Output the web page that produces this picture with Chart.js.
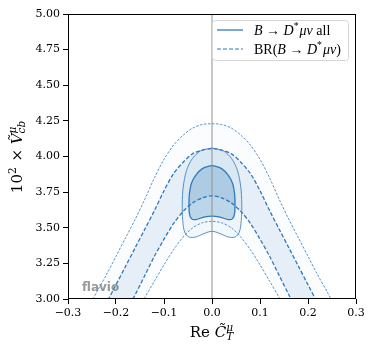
<!DOCTYPE html>
<html>
<head>
<meta charset="utf-8">
<script src="https://cdn.jsdelivr.net/npm/chart.js@4.4.0/dist/chart.umd.min.js"></script>
<style>
  html, body { margin: 0; padding: 0; background: #fff; }
  #wrap { width: 373px; height: 356px; }
</style>
</head>
<body>
<div id="wrap"><canvas id="chart" width="373" height="356"></canvas></div>
<script>
// Re C_T grid used by the BR(B -> D* mu nu) bands
const xGrid = [-0.28, -0.26, -0.24, -0.22, -0.20, -0.18, -0.16, -0.14, -0.12, -0.10, -0.08, -0.06, -0.04, -0.02, 0,
  0.02, 0.04, 0.06, 0.08, 0.10, 0.12, 0.14, 0.16, 0.18, 0.20, 0.22, 0.24, 0.26, 0.28];

// BR band edges (2 sigma upper, 1 sigma upper, 1 sigma lower, 2 sigma lower)
const brUpper2 = [2.80, 2.92, 3.05, 3.17, 3.30, 3.43, 3.56, 3.70, 3.85, 3.98, 4.08, 4.15, 4.20, 4.225, 4.23,
  4.225, 4.20, 4.15, 4.08, 3.98, 3.85, 3.70, 3.56, 3.43, 3.30, 3.17, 3.05, 2.92, 2.80];
const brUpper1 = [2.58, 2.71, 2.84, 2.97, 3.10, 3.23, 3.36, 3.49, 3.62, 3.76, 3.88, 3.96, 4.02, 4.045, 4.055,
  4.045, 4.02, 3.96, 3.88, 3.76, 3.62, 3.49, 3.36, 3.23, 3.10, 2.97, 2.84, 2.71, 2.58];
const brLower1 = [2.25, 2.38, 2.51, 2.64, 2.77, 2.90, 3.03, 3.165, 3.30, 3.42, 3.53, 3.615, 3.675, 3.71, 3.724,
  3.71, 3.675, 3.615, 3.53, 3.42, 3.30, 3.165, 3.03, 2.90, 2.77, 2.64, 2.51, 2.38, 2.25];
const brLower2 = [2.17, 2.29, 2.41, 2.53, 2.65, 2.77, 2.89, 3.01, 3.125, 3.24, 3.345, 3.435, 3.50, 3.535, 3.545,
  3.535, 3.50, 3.435, 3.345, 3.24, 3.125, 3.01, 2.89, 2.77, 2.65, 2.53, 2.41, 2.29, 2.17];

// global fit "all" contours
const allInnerX = [0, 0.020, 0.034, 0.043, 0.047, 0.048, 0.047, 0.043, 0.034, 0.017, 0,
  -0.017, -0.034, -0.043, -0.047, -0.048, -0.047, -0.043, -0.034, -0.020, 0];
const allInnerY = [3.938, 3.915, 3.868, 3.810, 3.740, 3.669, 3.599, 3.564, 3.557, 3.575, 3.582,
  3.575, 3.557, 3.564, 3.599, 3.669, 3.740, 3.810, 3.868, 3.915, 3.938];
const allOuterX = [0, 0.024, 0.041, 0.053, 0.060, 0.062, 0.061, 0.057, 0.048, 0.034, 0.017, 0,
  -0.017, -0.034, -0.048, -0.057, -0.061, -0.062, -0.060, -0.053, -0.041, -0.024, 0];
const allOuterY = [4.060, 4.039, 3.985, 3.903, 3.786, 3.669, 3.552, 3.470, 3.435, 3.435, 3.459, 3.475,
  3.459, 3.435, 3.435, 3.470, 3.552, 3.669, 3.786, 3.903, 3.985, 4.039, 4.060];

// SM reference line
const refLineX = [0, 0];
const refLineY = [3.0, 5.0];

const xTickLabels = ["\u22120.3", "\u22120.2", "\u22120.1", "0.0", "0.1", "0.2", "0.3"];
const yTickLabels = ["3.00", "3.25", "3.50", "3.75", "4.00", "4.25", "4.50", "4.75", "5.00"];

const blue = "#3079bb";
const fillBase = "31,119,180";
const serif = '"DejaVu Serif"';
const legendSerif = '"Liberation Serif"';

function pts(xs, ys) {
  return xs.map((x, i) => ({ x: x, y: ys[i] }));
}

let curFamily = serif;
function fontOf(it, size) {
  return (it ? "italic " : "") + size + "px " + curFamily;
}

// draws a row of text pieces with simple super/subscripts, returns width
function drawRich(ctx, parts, x, y, size, onlyMeasure) {
  let cx = x;
  for (const p of parts) {
    if (p.sup !== undefined || p.sub !== undefined) {
      const s = size * 0.7;
      let w = 0;
      if (p.sup) {
        ctx.font = fontOf(p.supIt, s);
        if (!onlyMeasure) ctx.fillText(p.sup, cx, y - size * 0.4);
        w = Math.max(w, ctx.measureText(p.sup).width);
      }
      if (p.sub) {
        ctx.font = fontOf(p.subIt, s);
        if (!onlyMeasure) ctx.fillText(p.sub, cx, y + size * 0.22);
        w = Math.max(w, ctx.measureText(p.sub).width);
      }
      cx += w + 1;
    } else {
      ctx.font = fontOf(p.it, size);
      if (!onlyMeasure) ctx.fillText(p.t, cx, y);
      cx += ctx.measureText(p.t).width;
    }
  }
  return cx - x;
}

const legendRows = [
  { dash: [], width: 1.3, target: 79, parts: [{ t: "B", it: 1 }, { t: " \u2192 " }, { t: "D", it: 1 }, { sup: "*" }, { t: "\u03bc\u03bd", it: 1 }, { t: " all" }] },
  { dash: [4, 2], width: 1.1, target: 92, parts: [{ t: "BR(" }, { t: "B", it: 1 }, { t: " \u2192 " }, { t: "D", it: 1 }, { sup: "*" }, { t: "\u03bc\u03bd", it: 1 }, { t: ")" }] }
];

const decorPlugin = {
  id: "decor",
  beforeDatasetsDraw(chart) {
    const ctx = chart.ctx;
    ctx.save();
    // flavio watermark
    ctx.fillStyle = "rgba(255,255,255,0.75)";
    ctx.fillRect(79, 275, 46, 23);
    ctx.font = 'bold 12px "DejaVu Sans"';
    ctx.fillStyle = "#9a9a9a";
    ctx.textBaseline = "alphabetic";
    ctx.fillText("flavio", 82, 291);
    ctx.restore();
  },
  afterDraw(chart) {
    const ctx = chart.ctx;
    const a = chart.chartArea;
    ctx.save();
    // frame
    ctx.strokeStyle = "#000";
    ctx.lineWidth = 1;
    ctx.strokeRect(Math.round(a.left) + 0.5, Math.round(a.top) + 0.5, Math.round(a.right - a.left) - 1, Math.round(a.bottom - a.top) - 1);

    // legend box
    const bx = 212.5, by = 20.5, bw = 136, bh = 40;
    ctx.beginPath();
    ctx.roundRect(bx, by, bw, bh, 3);
    ctx.fillStyle = "rgba(255,255,255,0.8)";
    ctx.fill();
    ctx.strokeStyle = "#d6d6d6";
    ctx.lineWidth = 1;
    ctx.stroke();
    curFamily = legendSerif;
    legendRows.forEach((r, i) => {
      const ly = 30 + i * 19;
      ctx.beginPath();
      ctx.setLineDash(r.dash);
      ctx.strokeStyle = blue;
      ctx.lineWidth = r.width;
      ctx.moveTo(217, ly);
      ctx.lineTo(243, ly);
      ctx.stroke();
      ctx.setLineDash([]);
      ctx.fillStyle = "#000";
      ctx.textBaseline = "alphabetic";
      const w0 = drawRich(ctx, r.parts, 0, 0, 13, true);
      const size = Math.min(14, 13 * r.target / w0);
      drawRich(ctx, r.parts, 254, ly + 4.5, size);
    });
    curFamily = serif;

    // axis titles
    ctx.fillStyle = "#000";
    const xParts = [{ t: "Re " }, { t: "C\u0303", it: 1 }, { sup: "\u03bc", supIt: 1, sub: "T", subIt: 1 }];
    const xw = drawRich(ctx, xParts, 0, 0, 15, true);
    drawRich(ctx, xParts, (a.left + a.right) / 2 - xw / 2, 337, 15);

    const yParts = [{ t: "10" }, { sup: "2" }, { t: " \u00d7 " }, { t: "V\u0303", it: 1 }, { sup: "\u03bc", supIt: 1, sub: "cb", subIt: 1 }];
    const yw = drawRich(ctx, yParts, 0, 0, 15, true);
    ctx.translate(22, (a.top + a.bottom) / 2);
    ctx.rotate(-Math.PI / 2);
    drawRich(ctx, yParts, -yw / 2, 0, 15);
    ctx.restore();
  }
};

const lineBase = { showLine: true, pointRadius: 0, borderColor: blue, tension: 0.3 };

const chart = new Chart(document.getElementById("chart").getContext("2d"), {
  type: "scatter",
  data: {
    datasets: [
      { // 0 SM line
        data: pts(refLineX, refLineY), showLine: true, pointRadius: 0,
        borderColor: "rgba(140,140,140,0.75)", borderWidth: 1.3, order: 0
      },
      { // 1 inner "all" contour
        ...lineBase, data: pts(allInnerX, allInnerY), borderWidth: 1.3,
        fill: "shape", backgroundColor: "rgba(" + fillBase + ",0.24)", order: 1
      },
      { // 2 outer "all" contour
        ...lineBase, data: pts(allOuterX, allOuterY), borderWidth: 0.8,
        fill: "shape", backgroundColor: "rgba(" + fillBase + ",0.06)", order: 2
      },
      { // 3 BR 1 sigma upper
        ...lineBase, data: pts(xGrid, brUpper1), borderWidth: 1.3, borderDash: [4, 2],
        fill: 4, backgroundColor: "rgba(" + fillBase + ",0.095)", order: 5
      },
      { // 4 BR 1 sigma lower
        ...lineBase, data: pts(xGrid, brLower1), borderWidth: 1.3, borderDash: [4, 2],
        fill: false, order: 4
      },
      { // 5 BR 2 sigma upper
        ...lineBase, data: pts(xGrid, brUpper2), borderWidth: 0.8, borderDash: [2.5, 1.5],
        fill: 6, backgroundColor: "rgba(" + fillBase + ",0.02)", order: 7
      },
      { // 6 BR 2 sigma lower
        ...lineBase, data: pts(xGrid, brLower2), borderWidth: 0.8, borderDash: [2.5, 1.5],
        fill: false, order: 6
      }
    ]
  },
  options: {
    responsive: false,
    animation: false,
    layout: { padding: { left: 0, right: 17, top: 14, bottom: 0 } },
    plugins: {
      legend: { display: false },
      tooltip: { enabled: false }
    },
    scales: {
      x: {
        type: "linear",
        min: -0.3,
        max: 0.3,
        afterFit: (s) => { s.height = 57; },
        ticks: {
          stepSize: 0.1,
          padding: 3,
          maxRotation: 0,
          color: "#000",
          font: { family: serif, size: 11 },
          callback: (v, i) => xTickLabels[i]
        },
        grid: { drawOnChartArea: false, color: "#000", tickLength: 5 },
        border: { display: false }
      },
      y: {
        type: "linear",
        min: 3,
        max: 5,
        afterFit: (s) => { s.width = 68; },
        ticks: {
          stepSize: 0.25,
          padding: 3,
          color: "#000",
          font: { family: serif, size: 11 },
          callback: (v, i) => yTickLabels[i]
        },
        grid: { drawOnChartArea: false, color: "#000", tickLength: 5 },
        border: { display: false }
      }
    }
  },
  plugins: [decorPlugin]
});
</script>
</body>
</html>
